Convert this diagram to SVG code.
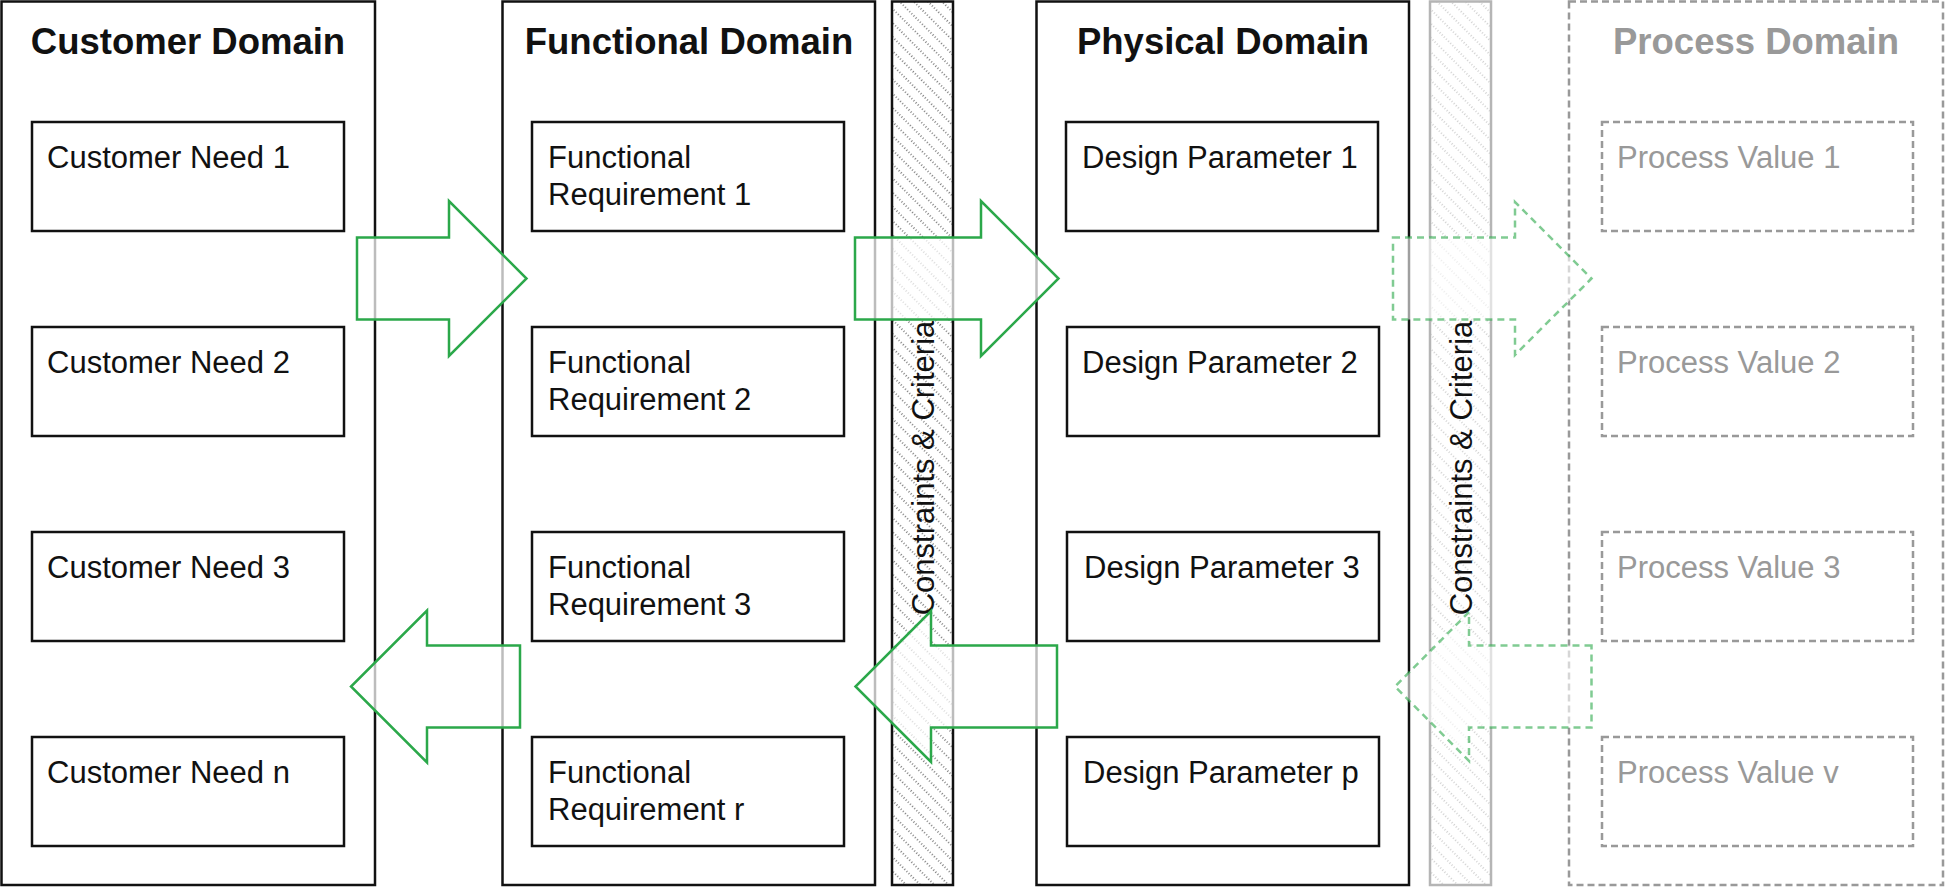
<svg xmlns="http://www.w3.org/2000/svg" width="1946" height="887" viewBox="0 0 1946 887">
<defs>
<pattern id="hatchDark" patternUnits="userSpaceOnUse" width="12" height="10" patternTransform="rotate(45)">
<line x1="0" y1="5" x2="12" y2="5" stroke="#111" stroke-width="1.2" stroke-dasharray="1 2"/>
</pattern>
<pattern id="hatchLight" patternUnits="userSpaceOnUse" width="12" height="10" patternTransform="rotate(45)">
<line x1="0" y1="5" x2="12" y2="5" stroke="#aaa" stroke-width="1.1" stroke-dasharray="1 2"/>
</pattern>
</defs>
<style>
.panel{fill:#fff;stroke:#111;stroke-width:2.5}
.ppanel{fill:#fff;stroke:#999;stroke-width:2.5;stroke-dasharray:7 4}
.box{fill:#fff;stroke:#111;stroke-width:2.5}
.pbox{fill:#fff;stroke:#999;stroke-width:2.5;stroke-dasharray:7 4}
.hdr{font-family:"Liberation Sans",Arial,Helvetica,sans-serif;font-weight:bold;font-size:36.5px;fill:#111;text-anchor:middle}
.phdr{font-family:"Liberation Sans",Arial,Helvetica,sans-serif;font-weight:bold;font-size:36.5px;fill:#999;text-anchor:middle}
.t{font-family:"Liberation Sans",Arial,Helvetica,sans-serif;font-size:31px;fill:#111}
.pt{font-family:"Liberation Sans",Arial,Helvetica,sans-serif;font-size:31px;fill:#999}
.vt{font-family:"Liberation Sans",Arial,Helvetica,sans-serif;font-size:31px;fill:#111;text-anchor:middle}
.arr{fill:#fff;fill-opacity:0.72;stroke:#2ba84a;stroke-width:2.5;stroke-linejoin:miter}
.darr{fill:#fff;fill-opacity:0.6;stroke:#2ba84a;stroke-opacity:0.6;stroke-width:2.5;stroke-dasharray:7 5}
</style>
<rect width="1946" height="887" fill="#fff"/>

<g id="customer-domain">
<rect class="panel" x="1.5" y="1.5" width="373.5" height="883.5"/>
<text class="hdr" x="188" y="54">Customer Domain</text>
</g>
<g id="functional-domain">
<rect class="panel" x="502.5" y="1.5" width="372.5" height="883.5"/>
<text class="hdr" x="689" y="54">Functional Domain</text>
</g>
<g id="constraints-1">
<rect x="892" y="1.5" width="61" height="883.5" fill="url(#hatchDark)" stroke="#111" stroke-width="2.5"/>
<text class="vt" transform="translate(933.5,468) rotate(-90)">Constraints &amp; Criteria</text>
</g>
<g id="physical-domain">
<rect class="panel" x="1036.5" y="1.5" width="372.5" height="883.5"/>
<text class="hdr" x="1223" y="54">Physical Domain</text>
</g>
<g id="constraints-2">
<rect x="1430" y="1.5" width="61" height="883.5" fill="url(#hatchLight)" stroke="#b5b5b5" stroke-width="2.5"/>
<text class="vt" transform="translate(1471.5,468) rotate(-90)">Constraints &amp; Criteria</text>
</g>
<g id="process-domain">
<rect class="ppanel" x="1569" y="1.5" width="374" height="883.5"/>
<text class="phdr" x="1756" y="54">Process Domain</text>
</g>

<g id="cn1"><rect class="box" x="32" y="122" width="312" height="109"/><text class="t" x="47" y="168">Customer Need 1</text></g>
<g id="cn2"><rect class="box" x="32" y="327" width="312" height="109"/><text class="t" x="47" y="373">Customer Need 2</text></g>
<g id="cn3"><rect class="box" x="32" y="532" width="312" height="109"/><text class="t" x="47" y="578">Customer Need 3</text></g>
<g id="cnn"><rect class="box" x="32" y="737" width="312" height="109"/><text class="t" x="47" y="783">Customer Need n</text></g>

<g id="fr1"><rect class="box" x="532" y="122" width="312" height="109"/><text class="t" x="548" y="168">Functional</text><text class="t" x="548" y="205">Requirement 1</text></g>
<g id="fr2"><rect class="box" x="532" y="327" width="312" height="109"/><text class="t" x="548" y="373">Functional</text><text class="t" x="548" y="410">Requirement 2</text></g>
<g id="fr3"><rect class="box" x="532" y="532" width="312" height="109"/><text class="t" x="548" y="578">Functional</text><text class="t" x="548" y="615">Requirement 3</text></g>
<g id="frr"><rect class="box" x="532" y="737" width="312" height="109"/><text class="t" x="548" y="783">Functional</text><text class="t" x="548" y="820">Requirement r</text></g>

<g id="dp1"><rect class="box" x="1066" y="122" width="312" height="109"/><text class="t" x="1082" y="168">Design Parameter 1</text></g>
<g id="dp2"><rect class="box" x="1067" y="327" width="312" height="109"/><text class="t" x="1082" y="373">Design Parameter 2</text></g>
<g id="dp3"><rect class="box" x="1067" y="532" width="312" height="109"/><text class="t" x="1084" y="578">Design Parameter 3</text></g>
<g id="dpp"><rect class="box" x="1067" y="737" width="312" height="109"/><text class="t" x="1083" y="783">Design Parameter p</text></g>

<g id="pv1"><rect class="pbox" x="1602" y="122" width="311" height="109"/><text class="pt" x="1617" y="168">Process Value 1</text></g>
<g id="pv2"><rect class="pbox" x="1602" y="327" width="311" height="109"/><text class="pt" x="1617" y="373">Process Value 2</text></g>
<g id="pv3"><rect class="pbox" x="1602" y="532" width="311" height="109"/><text class="pt" x="1617" y="578">Process Value 3</text></g>
<g id="pvv"><rect class="pbox" x="1602" y="737" width="311" height="109"/><text class="pt" x="1617" y="783">Process Value v</text></g>

<g id="connectors">
<path class="arr" d="M357,237.5 H449 V201 L526.5,278.5 L449,356 V319.5 H357 Z"/>
<path class="arr" d="M855,237.5 H981 V201 L1058.5,278.5 L981,356 V319.5 H855 Z"/>
<path class="darr" d="M1393,237.5 H1515 V202 L1591.5,278.5 L1515,355 V319.5 H1393 Z"/>
<path class="arr" d="M520,645.5 H427 V610.5 L351,686.5 L427,762.5 V727.5 H520 Z"/>
<path class="arr" d="M1057,645.5 H931 V611 L855.5,686.5 L931,762 V727.5 H1057 Z"/>
<path class="darr" d="M1591.5,645.5 H1469 V612 L1395,686.5 L1469,761 V727.5 H1591.5 Z"/>
</g>
</svg>
